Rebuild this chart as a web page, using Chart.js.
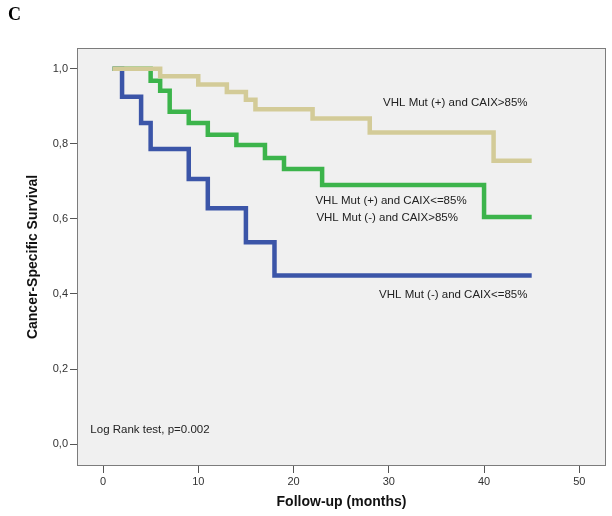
<!DOCTYPE html>
<html>
<head>
<meta charset="utf-8">
<script src="https://cdn.jsdelivr.net/npm/chart.js@4"></script>
<style>
  body { margin: 0; background: #fff; }
</style>
</head>
<body>
<canvas id="chart" width="612" height="516"></canvas>
<script>
const xTicks = [0, 10, 20, 30, 40, 50];
const yTicks = [0, 0.2, 0.4, 0.6, 0.8, 1.0];

// Kaplan-Meier steps: time (months) where the survival value starts
const tanTimes = [1, 6, 10, 13, 15, 16, 22, 28, 41, 45];
const tanSurv = [1, 0.98, 0.958, 0.938, 0.917, 0.892, 0.867, 0.83, 0.755, 0.755];
const greenTimes = [1, 5, 6, 7, 9, 11, 14, 17, 19, 23, 40, 45];
const greenSurv = [1, 0.968, 0.941, 0.885, 0.855, 0.824, 0.797, 0.762, 0.733, 0.69, 0.605, 0.605];
const blueTimes = [1, 2, 4, 5, 9, 11, 15, 18, 45];
const blueSurv = [1, 0.925, 0.855, 0.786, 0.706, 0.628, 0.538, 0.449, 0.449];

const groupLabels = [
  "VHL Mut (+) and CAIX>85%",
  "VHL Mut (+) and CAIX<=85%",
  "VHL Mut (-) and CAIX>85%",
  "VHL Mut (-) and CAIX<=85%",
];
const testLabel = "Log Rank test, p=0.002";

const toPoints = (times, surv) => times.map((t, i) => ({ x: t, y: surv[i] }));

// where the texts go, in data units
const notes = [
  { text: groupLabels[0], x: 29.4, y: 0.909, align: "left" },
  { text: groupLabels[1], x: 22.3, y: 0.648, align: "left" },
  { text: groupLabels[2], x: 22.4, y: 0.602, align: "left" },
  { text: groupLabels[3], x: 44.55, y: 0.398, align: "right" },
  { text: testLabel, x: -1.33, y: 0.038, align: "left" },
];

const boxPlugin = {
  id: "box",
  beforeDraw(chart) {
    const { ctx, chartArea: a } = chart;
    ctx.save();
    ctx.fillStyle = "#f0f0f0";
    ctx.fillRect(a.left, a.top, a.right - a.left, a.bottom - a.top);
    ctx.restore();
  },
  afterDraw(chart) {
    const { ctx, chartArea: a, scales } = chart;
    ctx.save();
    ctx.strokeStyle = "#7c7c7c";
    ctx.lineWidth = 1;
    ctx.strokeRect(a.left + 0.5, a.top + 0.5, a.right - a.left - 1, a.bottom - a.top - 1);

    ctx.fillStyle = "#222";
    ctx.font = "11.5px 'Liberation Sans', Arial, sans-serif";
    ctx.textBaseline = "middle";
    notes.forEach((n) => {
      ctx.textAlign = n.align;
      ctx.fillText(n.text, scales.x.getPixelForValue(n.x), scales.y.getPixelForValue(n.y));
    });

    ctx.fillStyle = "#000";
    ctx.font = "bold 18px 'Liberation Serif', 'Times New Roman', serif";
    ctx.textAlign = "left";
    ctx.textBaseline = "alphabetic";
    ctx.fillText("C", 8, 20);
    ctx.restore();
  },
};

const tickFont = { family: "'Liberation Sans', Arial, sans-serif", size: 11 };
const titleFont = { family: "'Liberation Sans', Arial, sans-serif", size: 14, weight: "bold" };

const ctx = document.getElementById("chart").getContext("2d");
const myChart = new Chart(ctx, {
  type: "line",
  data: {
    datasets: [
      {
        label: groupLabels[0],
        data: toPoints(tanTimes, tanSurv),
        borderColor: "#d3cb98",
        order: 0,
      },
      {
        label: groupLabels[1],
        data: toPoints(greenTimes, greenSurv),
        borderColor: "#3cb44b",
        order: 1,
      },
      {
        label: groupLabels[3],
        data: toPoints(blueTimes, blueSurv),
        borderColor: "#3b55a8",
        order: 2,
      },
    ],
  },
  options: {
    responsive: false,
    animation: false,
    layout: { padding: { left: 0, right: 6, top: 48, bottom: 0 } },
    elements: {
      line: { stepped: "before", borderWidth: 4.5, borderJoinStyle: "miter", borderCapStyle: "butt", fill: false },
      point: { radius: 0 },
    },
    plugins: { legend: { display: false }, tooltip: { enabled: false } },
    scales: {
      x: {
        type: "linear",
        min: -2.73,
        max: 52.8,
        afterBuildTicks: (scale) => { scale.ticks = xTicks.map((v) => ({ value: v })); },
        afterFit: (scale) => { scale.height = 50; },
        ticks: { color: "#333", font: tickFont, padding: 2 },
        grid: { drawOnChartArea: false, tickLength: 7, color: "#555" },
        border: { display: false },
        title: {
          display: true,
          text: "Follow-up (months)",
          color: "#111",
          font: titleFont,
          padding: { top: 0, bottom: 5.6 },
        },
      },
      y: {
        type: "linear",
        min: -0.058,
        max: 1.055,
        afterBuildTicks: (scale) => { scale.ticks = yTicks.map((v) => ({ value: v })); },
        afterFit: (scale) => { scale.width = 77; },
        ticks: {
          color: "#333",
          font: tickFont,
          padding: 2,
          callback: (value) => value.toFixed(1).replace(".", ","),
        },
        grid: { drawOnChartArea: false, tickLength: 7, color: "#555" },
        border: { display: false },
        title: {
          display: true,
          text: "Cancer-Specific Survival",
          color: "#111",
          font: titleFont,
          padding: { top: 24.6, bottom: 0 },
        },
      },
    },
  },
  plugins: [boxPlugin],
});
</script>
</body>
</html>
